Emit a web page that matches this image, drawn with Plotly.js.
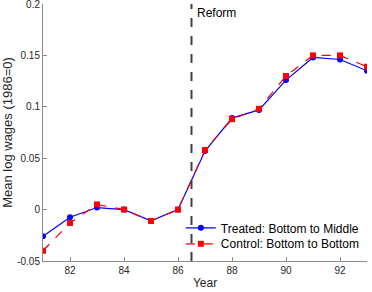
<!DOCTYPE html>
<html>
<head>
<meta charset="utf-8">
<script src="https://cdn.plot.ly/plotly-3.0.1.min.js"></script>
<style>html,body{margin:0;padding:0;background:#fff;}#chart{width:372px;height:292px;}</style>
</head>
<body>
<div id="chart"></div>
<script>
var years = [81, 82, 83, 84, 85, 86, 87, 88, 89, 90, 91, 92, 93];
var treated = [-0.026, -0.0075, 0.002, 0.0, -0.011, 0.0, 0.057, 0.089, 0.097, 0.126, 0.148, 0.146, 0.135];
var control = [-0.040, -0.013, 0.005, 0.0, -0.011, 0.0, 0.058, 0.088, 0.098, 0.130, 0.150, 0.150, 0.139];
var xTicks = [82, 84, 86, 88, 90, 92];
var yTicks = [-0.05, 0, 0.05, 0.1, 0.15, 0.2];
var yTickText = ['-0.05', '0', '0.05', '0.1', '0.15', '0.2'];
var reformYear = 86.5;

var FONT = 'Liberation Sans, Arial, sans-serif';

var traces = [
  {x: years, y: treated, name: 'Treated: Bottom to Middle', type: 'scatter', mode: 'lines+markers',
   legend: 'legend',
   line: {color: '#0000ff', width: 1.2}, marker: {symbol: 'circle', size: 6, color: '#0000ff'}},
  {x: years, y: control, name: 'Control: Bottom to Bottom', type: 'scatter', mode: 'lines+markers',
   legend: 'legend2',
   line: {color: '#ff0000', width: 1.2, dash: 'dash'}, marker: {symbol: 'square', size: 6, color: '#ff0000'}}
];

var axisCommon = {
  showgrid: false, zeroline: false, showline: true, linecolor: '#8a8a8a', linewidth: 1,
  ticks: 'inside', ticklen: 4, tickcolor: '#8a8a8a', tickwidth: 1,
  ticklabeloverflow: 'allow',
  tickfont: {family: FONT, size: 10, color: '#262626'}
};

var legendCommon = {xanchor: 'left', yanchor: 'middle', bgcolor: 'rgba(0,0,0,0)',
  font: {family: FONT, size: 12, color: '#000'}, borderwidth: 0};

var layout = {
  width: 372, height: 292,
  margin: {l: 43, r: 5, t: 4, b: 31},
  paper_bgcolor: '#ffffff', plot_bgcolor: '#ffffff',
  showlegend: true,
  legend: Object.assign({}, legendCommon, {x: 0.4255, y: 0.129}),
  legend2: Object.assign({}, legendCommon, {x: 0.4255, y: 0.067}),
  xaxis: Object.assign({}, axisCommon, {range: [81, 93], tickvals: xTicks,
    title: {text: 'Year', font: {family: FONT, size: 12, color: '#262626'}, standoff: 3}}),
  yaxis: Object.assign({}, axisCommon, {range: [-0.05, 0.2], tickvals: yTicks, ticktext: yTickText,
    title: {text: 'Mean log wages (1986=0)', font: {family: FONT, size: 13, color: '#262626'}, standoff: 3}}),
  shapes: [{type: 'line', xref: 'x', yref: 'paper', x0: reformYear, x1: reformYear, y0: 0, y1: 1,
            line: {color: '#404040', width: 2, dash: 'dash'}}],
  annotations: [{x: reformYear, xref: 'x', y: 1, yref: 'paper', xanchor: 'left', yanchor: 'top',
                 xshift: 3, yshift: 0, showarrow: false, text: 'Reform',
                 font: {family: FONT, size: 12, color: '#000'}}]
};

Plotly.newPlot('chart', traces, layout, {displayModeBar: false, staticPlot: true});
</script>
</body>
</html>
